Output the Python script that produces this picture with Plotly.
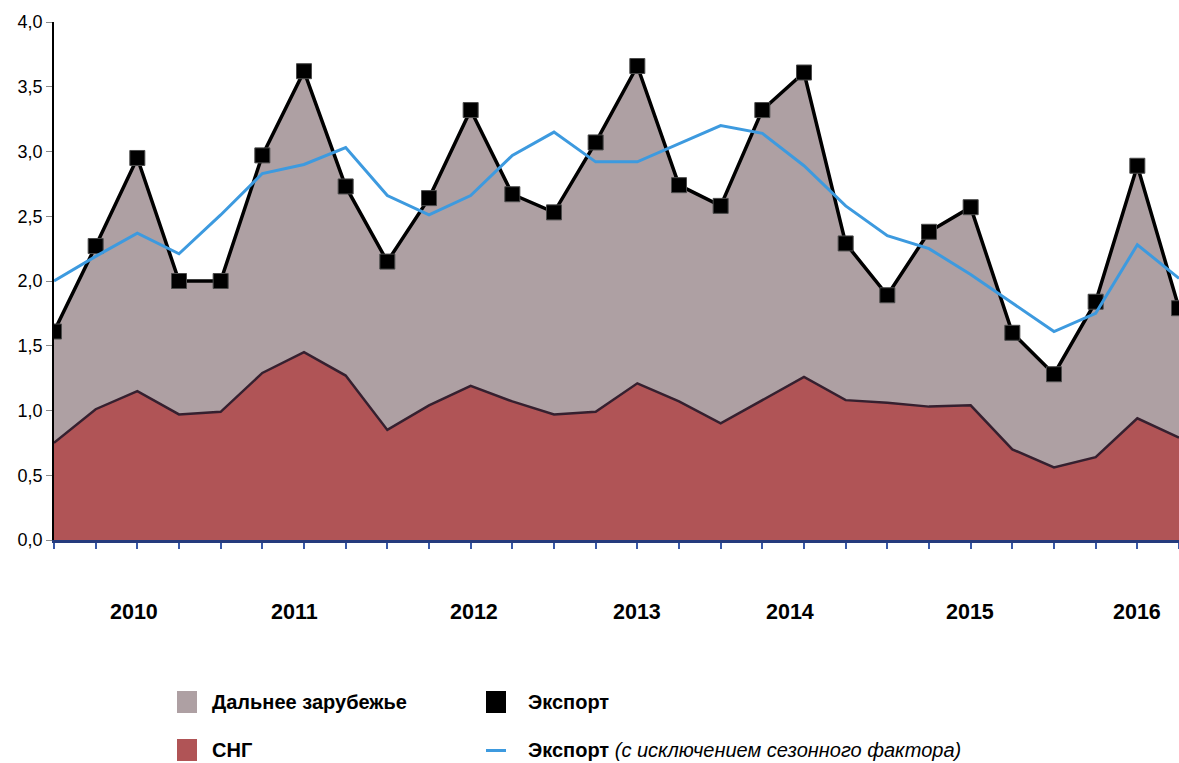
import plotly.graph_objects as go

# ---------------- data (quarterly, 2010 Q1 .. 2016 Q4) ----------------
quarters = ["2010 I", "2010 II", "2010 III", "2010 IV",
            "2011 I", "2011 II", "2011 III", "2011 IV",
            "2012 I", "2012 II", "2012 III", "2012 IV",
            "2013 I", "2013 II", "2013 III", "2013 IV",
            "2014 I", "2014 II", "2014 III", "2014 IV",
            "2015 I", "2015 II", "2015 III", "2015 IV",
            "2016 I", "2016 II", "2016 III", "2016 IV"]

cis = [0.75, 1.01, 1.15, 0.97, 0.99, 1.29, 1.45, 1.27,
       0.85, 1.04, 1.19, 1.07, 0.97, 0.99, 1.21, 1.07,
       0.90, 1.08, 1.26, 1.08, 1.06, 1.03, 1.04, 0.70,
       0.56, 0.64, 0.94, 0.79]

far_abroad = [0.86, 1.26, 1.80, 1.03, 1.01, 1.68, 2.17, 1.46,
              1.30, 1.60, 2.13, 1.60, 1.56, 2.08, 2.45, 1.67,
              1.68, 2.24, 2.35, 1.21, 0.83, 1.35, 1.53, 0.90,
              0.72, 1.20, 1.95, 1.00]

export = [1.61, 2.27, 2.95, 2.00, 2.00, 2.97, 3.62, 2.73,
          2.15, 2.64, 3.32, 2.67, 2.53, 3.07, 3.66, 2.74,
          2.58, 3.32, 3.61, 2.29, 1.89, 2.38, 2.57, 1.60,
          1.28, 1.84, 2.89, 1.79]

export_sa = [2.00, 2.19, 2.37, 2.21, 2.51, 2.83, 2.90, 3.03,
             2.66, 2.51, 2.66, 2.97, 3.15, 2.92, 2.92, 3.06,
             3.20, 3.14, 2.89, 2.58, 2.35, 2.25, 2.05, 1.83,
             1.61, 1.75, 2.28, 2.02]

year_labels = ["2010", "2011", "2012", "2013", "2014", "2015", "2016"]
year_label_pos = [1.92, 5.77, 10.08, 13.98, 17.66, 21.98, 26.0]

y_ticks = [0, 0.5, 1.0, 1.5, 2.0, 2.5, 3.0, 3.5, 4.0]

# ---------------- styling ----------------
FONT = "Liberation Sans, Arial, sans-serif"
C_FAR = "#AEA0A3"
C_CIS = "#B05456"
C_CIS_EDGE = "#35202F"
C_EXP = "#000000"
C_SA = "#3D9ADF"
C_AXIS_X = "#253B7D"

W, H = 1179, 763
L, R, T, B = 54, 0, 22, 223
PW = W - L - R
PH = H - T - B

idx = list(range(len(quarters)))

fig = go.Figure()

fig.add_trace(go.Scatter(
    x=idx, y=cis, name="СНГ", stackgroup="s", mode="lines",
    line=dict(color=C_CIS_EDGE, width=2.5), fillcolor=C_CIS,
    customdata=quarters, hovertemplate="%{customdata}: %{y}<extra>СНГ</extra>"))

fig.add_trace(go.Scatter(
    x=idx, y=far_abroad, name="Дальнее зарубежье", stackgroup="s", mode="lines",
    line=dict(color="#E8E2E4", width=1.5), fillcolor=C_FAR,
    customdata=quarters, hovertemplate="%{customdata}: %{y}<extra>Дальнее зарубежье</extra>"))

fig.add_trace(go.Scatter(
    x=idx, y=export, name="Экспорт", mode="lines+markers",
    line=dict(color=C_EXP, width=3.5),
    marker=dict(symbol="square", size=15, color=C_EXP, line=dict(color="#4a4a4a", width=1)),
    customdata=quarters, hovertemplate="%{customdata}: %{y}<extra>Экспорт</extra>"))

fig.add_trace(go.Scatter(
    x=idx, y=export_sa, name="Экспорт (с исключением сезонного фактора)", mode="lines",
    line=dict(color=C_SA, width=3),
    customdata=quarters, hovertemplate="%{customdata}: %{y}<extra>Экспорт SA</extra>"))

# year labels
for lab, pos in zip(year_labels, year_label_pos):
    fig.add_annotation(x=pos, xref="x", y=0, yref="paper", yshift=-72,
                       text=f"<b>{lab}</b>", showarrow=False,
                       xanchor="center", yanchor="middle",
                       font=dict(family=FONT, size=21.5, color="#000"))

# manual legend (pixel positions converted to paper coords)
def px(xp):
    return (xp - L) / PW

def py(yp):
    return (H - B - yp) / PH

legend_boxes = [
    (177, 691, 197, 713, C_FAR),
    (177, 739, 197, 761, C_CIS),
    (486, 691, 506, 713, C_EXP),
]
for x0, y0, x1, y1, col in legend_boxes:
    fig.add_shape(type="rect", xref="paper", yref="paper",
                  x0=px(x0), x1=px(x1), y0=py(y1), y1=py(y0),
                  fillcolor=col, line=dict(width=0))
fig.add_shape(type="line", xref="paper", yref="paper",
              x0=px(486), x1=px(506), y0=py(750.5), y1=py(750.5),
              line=dict(color=C_SA, width=3))

legend_texts = [
    (210, 702, "<b>Дальнее зарубежье</b>"),
    (210, 750, "<b>СНГ</b>"),
    (526, 702, "<b>Экспорт</b>"),
    (526, 750, "<b>Экспорт</b> <i>(с исключением сезонного фактора)</i>"),
]
for xp, yp, txt in legend_texts:
    fig.add_annotation(x=px(xp), y=py(yp), xref="paper", yref="paper",
                       text=txt, showarrow=False, xanchor="left", yanchor="middle",
                       font=dict(family=FONT, size=20, color="#000"))

fig.update_layout(
    width=W, height=H,
    margin=dict(l=L, r=R, t=T, b=B, pad=0),
    paper_bgcolor="white", plot_bgcolor="white",
    showlegend=False,
    separators=", ",
    font=dict(family=FONT, size=18, color="#000"),
    xaxis=dict(range=[0, len(idx) - 1], tickvals=idx, showticklabels=False,
               ticks="outside", ticklen=6, tickcolor="#3A5AA8", tickwidth=1.5,
               showgrid=False, zeroline=False,
               showline=True, linecolor=C_AXIS_X, linewidth=3),
    yaxis=dict(range=[0, 4], tickvals=y_ticks, tickformat=".1f",
               ticks="outside", ticklen=6, tickcolor="#8a8a8a",
               showgrid=False, zeroline=False,
               showline=True, linecolor="#000", linewidth=1.5,
               tickfont=dict(family=FONT, size=18, color="#000")),
)

fig.write_html(
    "out.html",
    config={"displayModeBar": False},
    post_script="document.body.style.margin='0';document.body.style.overflow='hidden';",
)
